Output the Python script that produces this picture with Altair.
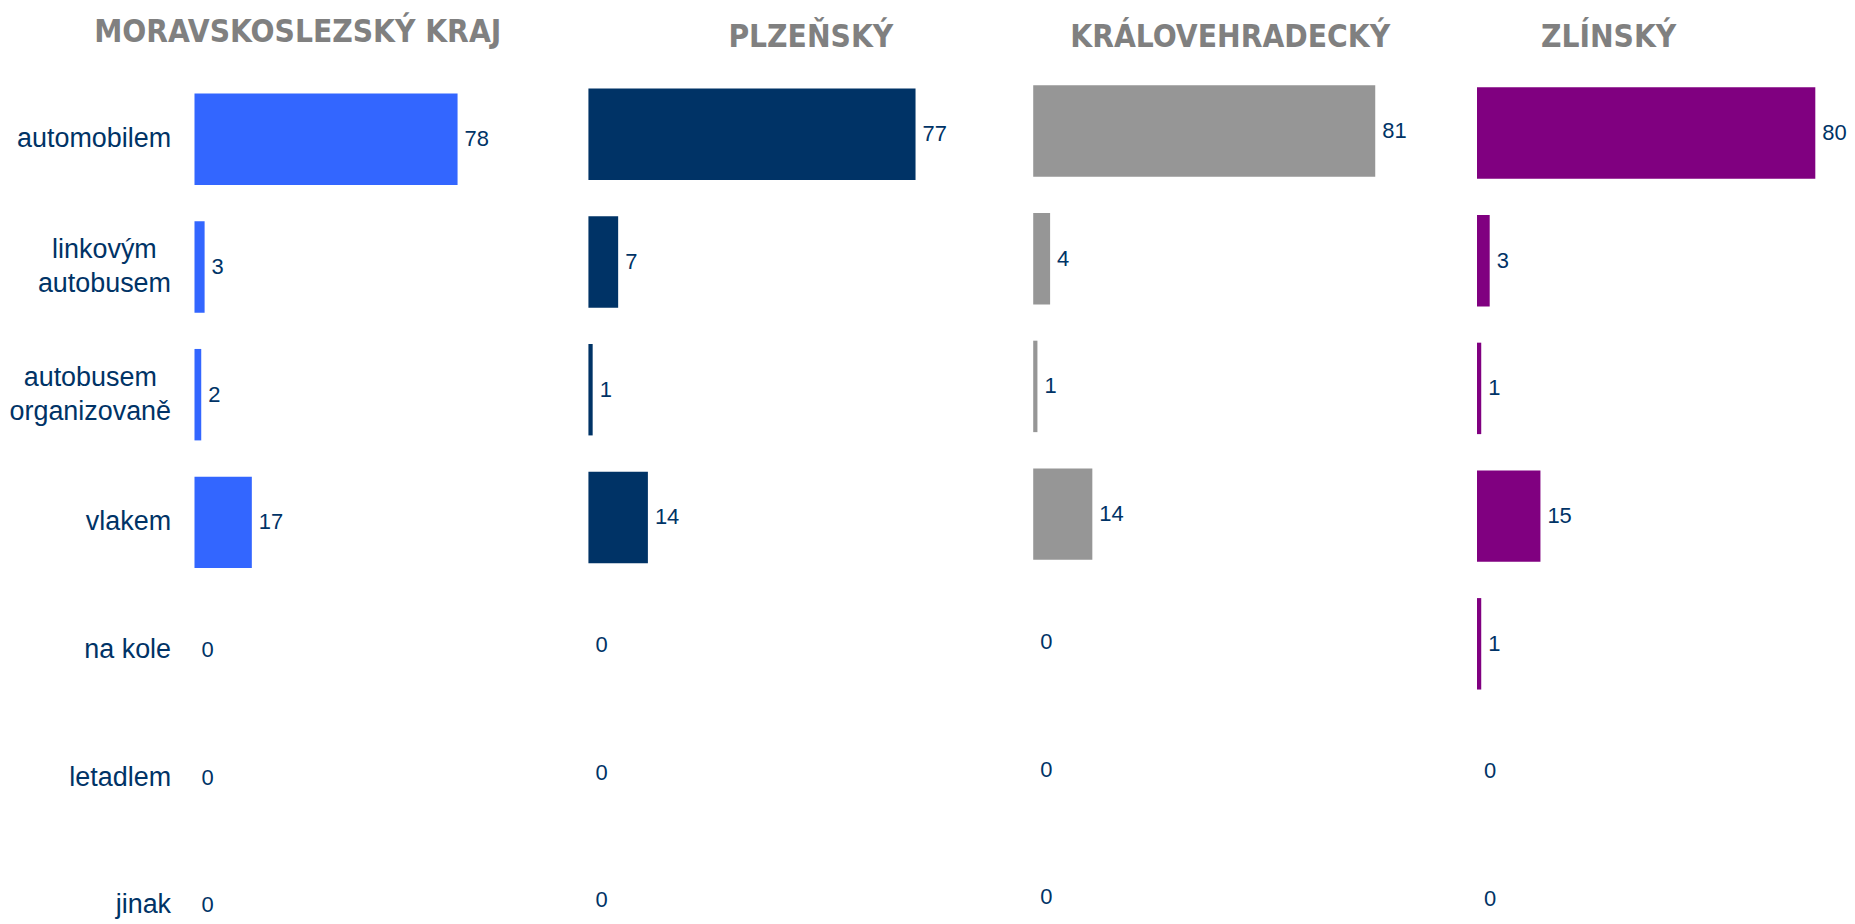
import altair as alt
import pandas as pd

# ---- data ----
categories = ["automobilem", "linkovým\nautobusem", "autobusem\norganizovaně",
              "vlakem", "na kole", "letadlem", "jinak"]
regions = ["MORAVSKOSLEZSKÝ KRAJ", "PLZEŇSKÝ", "KRÁLOVEHRADECKÝ", "ZLÍNSKÝ"]
moravskoslezsky = [78, 3, 2, 17, 0, 0, 0]
plzensky = [77, 7, 1, 14, 0, 0, 0]
kralovehradecky = [81, 4, 1, 14, 0, 0, 0]
zlinsky = [80, 3, 1, 15, 1, 0, 0]
colors = ["#3366FF", "#003366", "#969696", "#800080"]

series = [moravskoslezsky, plzensky, kralovehradecky, zlinsky]

# ---- layout settings ----
widths = [395, 446, 445, 360]
x_max = [116.8, 104.7, 105.1, 84.9]
y_shift = [0, -5, -8.3, -6.3]
title_dx = [-94, 0, -25, -48]
title_offset = [45.1, 34.7, 31.4, 33.4]
H = 860

TITLE_FONT = "DejaVu Sans Condensed, Liberation Sans Narrow, sans-serif"
SANS = "Liberation Sans, Arial, Helvetica, sans-serif"
TXT = "#003366"
MULTI = "indexof(datum.value, '\\n') >= 0"
ORG = "indexof(datum.value, 'organiz') >= 0"


def panel(i):
    df = pd.DataFrame({"kategorie": categories, "hodnota": series[i]})
    yscale = alt.Scale(domain=categories, paddingInner=0.284, paddingOuter=0,
                       range=[y_shift[i], H + y_shift[i]])
    if i == 0:
        yaxis = alt.Axis(
            title=None, domain=False, ticks=False, tickSize=0, grid=False,
            minExtent=186, maxExtent=186,
            labelFont=SANS, labelFontSize=27, labelColor=TXT,
            labelAlign={"condition": {"test": MULTI, "value": "center"}, "value": "right"},
            labelPadding={"condition": [{"test": ORG, "value": 105},
                                        {"test": MULTI, "value": 90.8}], "value": 24},
            labelOffset={"condition": {"test": MULTI, "value": -17}, "value": 0},
            labelBaseline="middle", labelLineHeight=34, labelLimit=400,
            labelExpr="split(datum.label, '\\n')")
    else:
        yaxis = None
    base = alt.Chart(df).encode(
        y=alt.Y("kategorie:N", sort=categories, scale=yscale, axis=yaxis),
        x=alt.X("hodnota:Q", scale=alt.Scale(domain=[0, x_max[i]], nice=False, zero=True),
                axis=None),
    )
    bars = base.mark_bar(color=colors[i], size=91.7)
    labels = base.mark_text(align="left", baseline="middle", dx=7, fontSize=22,
                            font=SANS, color=TXT).encode(text="hodnota:Q")
    return (bars + labels).properties(
        width=widths[i], height=H,
        title=alt.TitleParams(regions[i], font=TITLE_FONT, fontSize=31.5, fontWeight="bold",
                              color="#808080", anchor="middle", dx=title_dx[i],
                              offset=title_offset[i]),
    )


chart = alt.hconcat(*[panel(i) for i in range(4)], spacing=0).properties(
    padding={"top": 7.5, "left": 0, "right": 0, "bottom": 0}
).configure_view(stroke=None).configure_concat(spacing=0)

chart.save("out.html", embed_options={"renderer": "svg", "actions": False})
